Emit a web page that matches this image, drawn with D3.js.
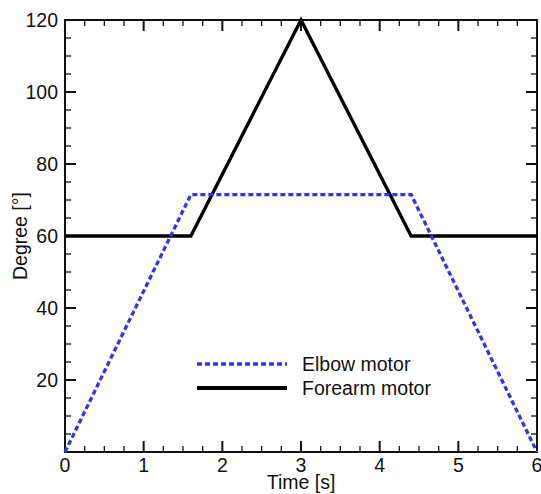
<!DOCTYPE html>
<html>
<head>
<meta charset="utf-8">
<script src="https://cdn.jsdelivr.net/npm/d3@7"></script>
<style>
  html, body { margin: 0; padding: 0; background: #fff; }
  svg { display: block; }
  text { font-family: "Liberation Sans", Arial, sans-serif; fill: #111; }
</style>
</head>
<body>
<svg id="chart" width="541" height="494"></svg>
<script>
// ---- data ----
const elbowTime   = [0, 1.6, 4.4, 6];
const elbowDeg    = [0, 71.5, 71.5, 0];
const forearmTime = [0, 1.6, 3, 4.4, 6];
const forearmDeg  = [60, 60, 120, 60, 60];
const xTickLabels = [0, 1, 2, 3, 4, 5, 6];
const yTickLabels = [20, 40, 60, 80, 100, 120];
const seriesNames = ["Elbow motor", "Forearm motor"];

// ---- layout ----
const svg = d3.select("#chart");
const L = 65, R = 537, T = 20, B = 452;
const x = d3.scaleLinear().domain([0, 6]).range([L, R]);
const y = d3.scaleLinear().domain([0, 120]).range([B, T]);
const fs = 19.5;

const xMinor = d3.range(0, 6.0001, 0.25);
const yMinor = d3.range(0, 120.0001, 5);
const majLen = 11, minLen = 6;

const g = svg.append("g");

// ticks (inward on all sides)
function tickLines(vals, isMajor) {
  const len = isMajor ? majLen : minLen;
  vals.forEach(v => {
    g.append("line").attr("x1", x(v)).attr("x2", x(v)).attr("y1", B).attr("y2", B - len)
      .attr("stroke", "#111").attr("stroke-width", isMajor ? 2 : 1.3);
    g.append("line").attr("x1", x(v)).attr("x2", x(v)).attr("y1", T).attr("y2", T + len)
      .attr("stroke", "#111").attr("stroke-width", isMajor ? 2 : 1.3);
  });
}
tickLines(xMinor.filter(v => Math.abs(v - Math.round(v)) > 1e-6), false);
tickLines(xTickLabels, true);

function yTickLines(vals, isMajor) {
  const len = isMajor ? majLen : minLen;
  vals.forEach(v => {
    g.append("line").attr("x1", L).attr("x2", L + len).attr("y1", y(v)).attr("y2", y(v))
      .attr("stroke", "#111").attr("stroke-width", isMajor ? 2 : 1.3);
    g.append("line").attr("x1", R).attr("x2", R - len).attr("y1", y(v)).attr("y2", y(v))
      .attr("stroke", "#111").attr("stroke-width", isMajor ? 2 : 1.3);
  });
}
yTickLines(yMinor.filter(v => v % 20 !== 0), false);
yTickLines([0].concat(yTickLabels), true);

// frame
g.append("rect").attr("x", L).attr("y", T).attr("width", R - L).attr("height", B - T)
  .attr("fill", "none").attr("stroke", "#111").attr("stroke-width", 2);

// tick labels
g.selectAll(".xl").data(xTickLabels).enter().append("text")
  .attr("x", d => x(d)).attr("y", 472).attr("text-anchor", "middle")
  .attr("font-size", fs).text(d => d);
g.selectAll(".yl").data(yTickLabels).enter().append("text")
  .attr("x", 58).attr("y", d => y(d) + 7).attr("text-anchor", "end")
  .attr("font-size", fs).text(d => d);

// axis titles
g.append("text").attr("x", (L + R) / 2).attr("y", 489).attr("text-anchor", "middle")
  .attr("font-size", fs).text("Time [s]");
g.append("text").attr("transform", `translate(27,${(T + B) / 2}) rotate(-90)`)
  .attr("text-anchor", "middle").attr("font-size", fs).text("Degree [°]");

// lines
const line = d3.line().x(d => x(d[0])).y(d => y(d[1]));
const elbow = elbowTime.map((t, i) => [t, elbowDeg[i]]);
const forearm = forearmTime.map((t, i) => [t, forearmDeg[i]]);

g.append("path").attr("d", line(forearm)).attr("fill", "none")
  .attr("stroke", "#000").attr("stroke-width", 3.3).attr("stroke-linejoin", "miter");
g.append("path").attr("d", line(elbow)).attr("fill", "none")
  .attr("stroke", "#3434e0").attr("stroke-width", 3.3).attr("stroke-dasharray", "5,3");

// legend
const leg = [
  { name: seriesNames[0], y: 364, stroke: "#3434e0", dash: "5,3", w: 3.3 },
  { name: seriesNames[1], y: 388, stroke: "#000", dash: null, w: 3.8 }
];
leg.forEach(d => {
  const l = g.append("line").attr("x1", 197).attr("x2", 287).attr("y1", d.y).attr("y2", d.y)
    .attr("stroke", d.stroke).attr("stroke-width", d.w);
  if (d.dash) l.attr("stroke-dasharray", d.dash);
  g.append("text").attr("x", 302).attr("y", d.y + 7).attr("font-size", fs).text(d.name);
});
</script>
</body>
</html>
